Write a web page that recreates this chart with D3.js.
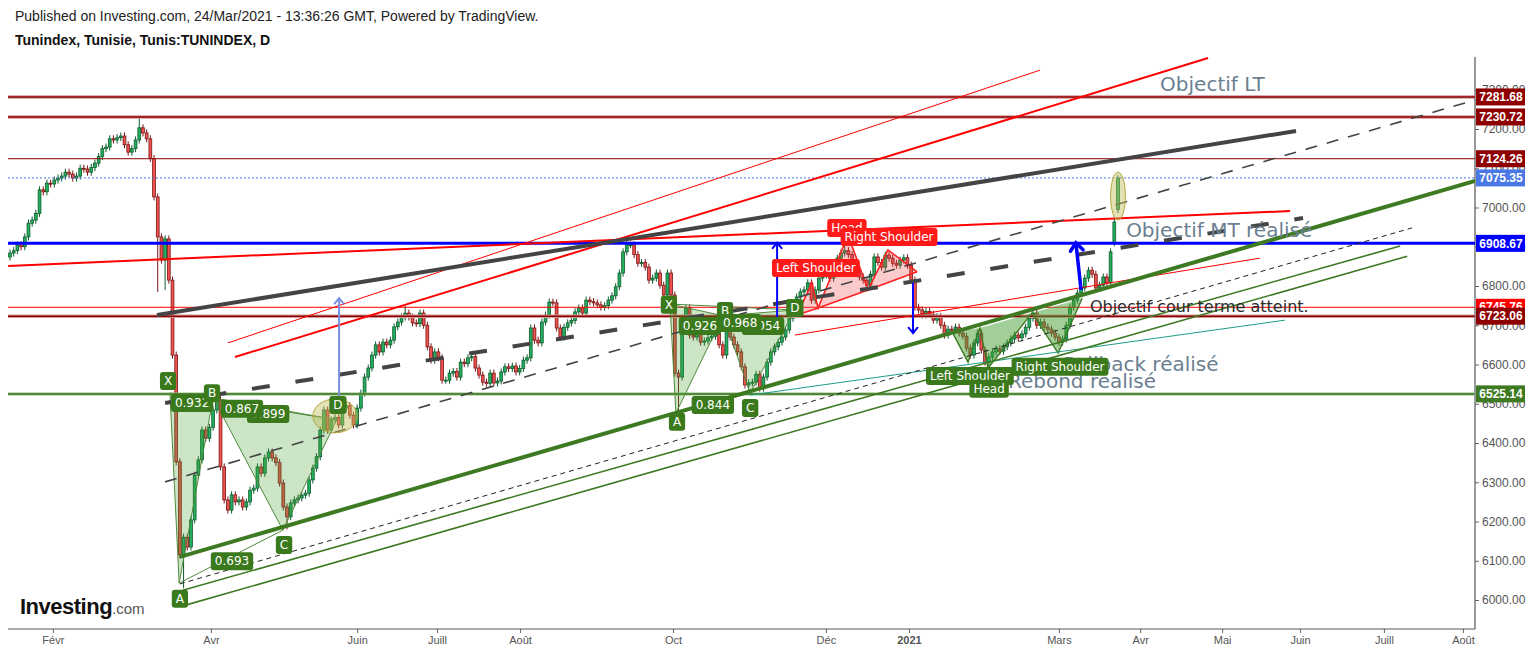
<!DOCTYPE html>
<html><head><meta charset="utf-8">
<script src="https://cdn.jsdelivr.net/npm/d3@7"></script>
<style>body{margin:0;background:#fff;overflow:hidden}svg{display:block}</style>
</head><body>
<svg id="c" width="1533" height="653"></svg>
<script>
// ---------------- DATA ----------------
const closes = [
// Jan - early Mar 2020
6884,6890,6905,6900,6925,6960,6968,6985,7045,7040,7062,7060,7070,7075,7080,7090,7085,7075,7080,7100,
7098,7090,7102,7113,7130,7150,7154,7175,7172,7178,7182,7160,7141,7150,7172,7203,7190,7175,7125,
// crash + recovery
7027,6925,6866,6920,6815,6624,6352,6115,6160,6135,6204,6318,6357,6433,6412,6440,6484,6510,6339,6255,
6229,6268,6250,6255,6237,6250,6280,6285,6339,6323,6362,6377,6362,6350,6298,6237,6212,6247,6255,6260,
6267,6272,6306,6336,6365,6433,6484,6433,6459,6465,6446,6489,6495,6471,6446,6489,6527,
// Jun - Aug
6568,6591,6624,6650,6632,6657,6650,6662,6696,6708,6721,6731,6721,6706,6704,6731,6700,6645,6611,6632,
6617,6560,6560,6578,6582,6568,6606,6602,6617,6620,6591,6573,6555,6552,6578,6553,6558,6581,6594,6590,
6596,6581,6590,6611,
// Aug - Sep
6617,6693,6662,6655,6708,6726,6759,6757,6693,6670,6695,6706,6712,6734,6744,6731,6764,6760,6757,6752,
6746,6750,6764,6775,6798,6833,6887,6905,6905,6880,6858,6860,6848,6815,6820,6833,6802,6777,6833,6777,
// Oct - Nov
6578,6568,6688,6744,6675,6670,6678,6657,6660,6668,6672,6680,6650,6624,6688,6670,6650,6632,6594,6548,
6553,6555,6575,6540,6568,6606,6632,6645,6657,
// Nov - Dec
6670,6688,6718,6751,6772,6785,6790,6808,6764,6790,6820,6828,6832,6820,6846,6871,6884,6890,6880,6853,
6840,6823,6815,6802,6830,6874,6860,6848,6879,6871,6858,6853,6866,6872,6853,6815,
// Jan - Mar 2021
6746,6739,6726,6735,6728,6713,6722,6700,6675,6690,6688,6695,6680,6672,6642,6624,6655,6680,6637,6606,
6619,6632,6640,6634,6645,6655,6665,6675,6668,6678,6695,6718,6731,6700,6708,6695,6690,6680,6670,6657,
6665,
6700,6746,6764,6782,6795,6820,6840,6830,6795,6802,6823,6808,6887,6963,7075
];
// gap opens [barIndex, open]
const openGaps = [[299, 6910], [300, 6995]];
// wick extremes [barIndex, high, low]
const wickExtremes = [
  [35, 7232, null], [40, null, 6785], [42, null, 6790], [47, null, 6030], [75, null, 6180],
  [107, 6750, null], [167, 6915, null], [181, null, 6476], [200, null, 6527], [226, 6930, null],
  [300, 7082, null]
];
const wickSize = 9;

const monthTicks = [11.6, 54.4, 94.0, 115.6, 138.1, 179.5, 220.9, 243.4, 284.0, 306.0, 328.2, 349.3, 372.0, 393.4];
const monthLabels = ["Févr","Avr","Juin","Juill","Août","Oct","Déc","2021","Mars","Avr","Mai","Juin","Juill","Août"];
const priceTicks = [6000,6100,6200,6300,6400,6500,6600,6700,6800,6900,7000,7100,7200,7300];

// horizontal levels [name, value]
const levels = [
  ["darkred2", 7281.68], ["darkred2", 7230.72], ["darkred1", 7124.26], ["bluedot", 7075.35],
  ["blue", 6908.67], ["red1", 6745.76], ["darkred2", 6723.06], ["green2", 6525.14]
];
// trend lines [name, i1, p1, i2, p2]
const trendLines = [
  ["redThin", 59.0, 6655, 278.9, 7350],
  ["redThick", 60.9, 6619, 324.4, 7381],
  ["redFlat", -0.5, 6851, 346.6, 6991],
  ["redThin2", 212.5, 6675, 338.4, 6871],
  ["teal", 200.4, 6522, 345.2, 6713],
  ["grayThick", 39.8, 6726, 348.2, 7195],
  ["grayThickDash", 42.0, 6502, 350.1, 6973],
  ["grayMedDash", 42.0, 6301, 396.7, 7274],
  ["blackDash", 46.0, 6041, 379.6, 6948],
  ["greenThin", 46.8, 6025, 376.4, 6902],
  ["greenThin", 46.8, 5985, 378.3, 6876],
  ["greenThick", 46.0, 6110, 396.7, 7068]
];
// XABCD patterns: points X, A, B, C, D as [i, p]
const xabcd = [
  [[43.3, 6527], [45.8, 6043], [55.0, 6515], [73.9, 6178], [88.5, 6459]],
  [[178.7, 6754], [180.3, 6476], [193.1, 6724], [200.4, 6527], [212.5, 6739]]
];
// head & shoulders: start, LS, N1, Head, N2, RS, end
const hsTop = [[213.1, 6726], [217.1, 6808], [218.8, 6744], [226.9, 6930], [232.3, 6790], [237.7, 6892], [245.6, 6836]];
const hsInv = [[255.1, 6683], [259.4, 6606], [262.6, 6693], [264.8, 6591], [276.7, 6731], [283.8, 6629], [290.3, 6769]];
// arrows [name, fromI, fromP, toI, toP]
const arrows = [
  ["lightblue", 89.1, 6497, 89.1, 6769],
  ["blue", 207.7, 6688, 207.7, 6910],
  ["blue", 244.5, 6808, 244.5, 6680],
  ["blueThick", 290.0, 6790, 288.6, 6910]
];
// ellipses [i, p, halfWidthBars, halfHeightPrice]
const ellipses = [[88.0, 6469, 6.0, 43], [300.0, 7029, 2.0, 61]];
// tag labels [text, i, p, kind]
const tags = [
  ["X", 42.8, 6558, "g"], ["0.932", 49.3, 6502, "g"], ["B", 54.7, 6527, "g"], ["0.899", 69.9, 6474, "g"],
  ["0.867", 62.8, 6487, "g"], ["D", 88.8, 6497, "g"], ["0.693", 60.1, 6099, "g"], ["A", 46.0, 6003, "g"],
  ["C", 74.2, 6140, "g"],
  ["X", 178.4, 6752, "g"], ["B", 193.6, 6736, "g"], ["1.054", 203.9, 6698, "g"], ["0.926", 186.8, 6698, "g"],
  ["0.968", 197.7, 6706, "g"], ["D", 212.5, 6744, "g"], ["0.844", 190.3, 6497, "g"], ["A", 180.6, 6454, "g"],
  ["C", 200.4, 6489, "g"],
  ["Left Shoulder", 218.2, 6846, "r"], ["Head", 226.6, 6948, "r"], ["Right Shoulder", 238.0, 6925, "r"]
];
const tagsLate = [
  ["Left Shoulder", 259.9, 6571, "g"], ["Right Shoulder", 284.3, 6594, "g"], ["Head", 265.1, 6538, "g"]
];
// free texts [text, i, p, kind]
const notes = [
  ["Objectif LT", 311.4, 7297, "big"],
  ["Objectif MT réalisé", 302.2, 6925, "big"],
  ["Objectif cour terme atteint.", 292.4, 6734, "small"],
  ["Pullback réalisé", 285.1, 6583, "big"],
  ["Rebond realisé", 270.2, 6540, "big"]
];

// ---------------- STYLES ----------------
const plot = {left: 8, right: 1475, top: 57, bottom: 629};
const lvlStyle = {
  darkred2: [{c: "#d29a9a", w: 3.5}, {c: "#8e0000", w: 1.5}],
  darkred1: [{c: "#8e0000", w: 1}],
  bluedot: [{c: "#4a78e6", w: 1, dash: "2,2"}],
  blue: [{c: "#0000ff", w: 3}],
  red1: [{c: "#ff0000", w: 1}],
  green2: [{c: "#8fb880", w: 3}, {c: "#3d7a22", w: 1.5}]
};
const lvlBox = {darkred2: "#8e0000", darkred1: "#8e0000", bluedot: "#4a78e6", blue: "#0000ff", red1: "#ff0000", green2: "#3d7a22"};
const tlStyle = {
  redThin: {c: "#ff0000", w: 1}, redThick: {c: "#ff0000", w: 2}, redFlat: {c: "#ff0000", w: 2},
  redThin2: {c: "#ff0000", w: 1}, teal: {c: "#1f9e8a", w: 1},
  grayThick: {c: "#444", w: 4}, grayThickDash: {c: "#444", w: 4, dash: "18,26"},
  grayMedDash: {c: "#444", w: 1.6, dash: "12,10"}, blackDash: {c: "#222", w: 1, dash: "5,4"},
  greenThin: {c: "#3d7a22", w: 1.6}, greenThick: {c: "#3d7a22", w: 4}
};
const arrowStyle = {lightblue: {c: "#7a8fe0", w: 2, h: 7}, blue: {c: "#0000ff", w: 2, h: 7}, blueThick: {c: "#0000ff", w: 3.5, h: 10}};

// ---------------- SCALES ----------------
const x = d3.scaleLinear().domain([0, 300]).range([10, 1118]);
const y = d3.scaleLinear().domain([6000, 7200]).range([600, 129]);
const svg = d3.select("#c");
svg.append("defs").append("clipPath").attr("id", "clip").append("rect")
  .attr("x", plot.left).attr("y", plot.top).attr("width", plot.right - plot.left).attr("height", plot.bottom - plot.top);

// header
svg.append("text").attr("x", 15).attr("y", 21).text("Published on Investing.com, 24/Mar/2021 - 13:36:26 GMT, Powered by TradingView.")
  .style("font", "14px 'Liberation Sans', Arial, sans-serif").attr("fill", "#222");
svg.append("text").attr("x", 15).attr("y", 45).text("Tunindex, Tunisie, Tunis:TUNINDEX, D")
  .style("font", "bold 14px 'Liberation Sans', Arial, sans-serif").attr("fill", "#111");

// axes
const yAxis = d3.axisRight(y).tickValues(priceTicks).tickFormat(d3.format(".2f")).tickSize(4);
const ya = svg.append("g").attr("transform", `translate(${plot.right},0)`).call(yAxis);
ya.select(".domain").remove();
ya.selectAll("line").attr("stroke", "#666");
ya.selectAll("text").attr("fill", "#555").attr("x", 7).style("font", "12px 'Liberation Sans', Arial, sans-serif");
svg.append("line").attr("x1", plot.right).attr("x2", plot.right).attr("y1", plot.top).attr("y2", plot.bottom).attr("stroke", "#555").attr("stroke-width", 1.2);

const xAxis = d3.axisBottom(x).tickValues(monthTicks).tickFormat((d, k) => monthLabels[k]).tickSize(4);
const xa = svg.append("g").attr("transform", `translate(0,${plot.bottom})`).call(xAxis);
xa.select(".domain").remove();
xa.selectAll("line").attr("stroke", "#666");
xa.selectAll("text").attr("fill", "#555").attr("y", 7)
  .style("font", "11px 'Liberation Sans Narrow', 'Liberation Sans', Arial, sans-serif")
  .style("font-weight", (d, k) => monthLabels[k] === "2021" ? "bold" : "normal");
svg.append("line").attr("x1", plot.left).attr("x2", plot.right).attr("y1", plot.bottom).attr("y2", plot.bottom).attr("stroke", "#555").attr("stroke-width", 1.2);

const g = svg.append("g").attr("clip-path", "url(#clip)");

// candles
const ovO = new Map(openGaps), ovW = new Map(wickExtremes.map(d => [d[0], d]));
const candles = closes.map((c, i) => {
  const o = ovO.has(i) ? ovO.get(i) : (i === 0 ? c - 10 : closes[i - 1]);
  let hi = Math.max(o, c) + wickSize, lo = Math.min(o, c) - wickSize;
  if (ovW.has(i)) { const e = ovW.get(i); if (e[1] != null) hi = e[1]; if (e[2] != null) lo = e[2]; }
  return {i, o, c, hi, lo, up: c >= o};
});
const cg = g.append("g");
cg.selectAll("line").data(candles).join("line")
  .attr("x1", d => x(d.i)).attr("x2", d => x(d.i)).attr("y1", d => y(d.hi)).attr("y2", d => y(d.lo))
  .attr("stroke", d => d.up ? "#0d5a2a" : "#7a1414").attr("stroke-width", 1);
cg.selectAll("rect").data(candles).join("rect")
  .attr("x", d => x(d.i) - 1.4).attr("width", 2.8)
  .attr("y", d => y(Math.max(d.o, d.c))).attr("height", d => Math.max(1, Math.abs(y(d.o) - y(d.c))))
  .attr("fill", d => d.up ? "#22b060" : "#ef5350").attr("stroke", d => d.up ? "#0d5a2a" : "#7a1414").attr("stroke-width", 0.8);

// levels
levels.forEach(([k, v]) => lvlStyle[k].forEach(s => g.append("line")
  .attr("x1", plot.left).attr("x2", plot.right).attr("y1", y(v)).attr("y2", y(v))
  .attr("stroke", s.c).attr("stroke-width", s.w).attr("stroke-dasharray", s.dash || null)));

// patterns
const pt = p => [x(p[0]), y(p[1])];
const line = d3.line();
xabcd.forEach(P => {
  const [X, A, B, C, D] = P.map(pt);
  g.append("path").attr("d", line([X, A, B]) + "Z").attr("fill", "rgba(70,160,50,0.28)").attr("stroke", "#4f8a3a").attr("stroke-width", 1);
  g.append("path").attr("d", line([B, C, D]) + "Z").attr("fill", "rgba(70,160,50,0.28)").attr("stroke", "#4f8a3a").attr("stroke-width", 1);
  g.append("path").attr("d", line([X, D])).attr("fill", "none").attr("stroke", "#4f8a3a").attr("stroke-width", 1);
  g.append("path").attr("d", line([A, C])).attr("fill", "none").attr("stroke", "#4f8a3a").attr("stroke-width", 1);
});
{
  const P = hsTop.map(pt);
  [[0, 1, 2], [2, 3, 4], [4, 5, 6]].forEach(t => g.append("path").attr("d", line(t.map(k => P[k])) + "Z")
    .attr("fill", "rgba(240,70,70,0.28)").attr("stroke", "none"));
  g.append("path").attr("d", line(P)).attr("fill", "none").attr("stroke", "#ff2020").attr("stroke-width", 1.6);
  g.append("path").attr("d", line([P[0], P[2], P[4], P[6]])).attr("fill", "none").attr("stroke", "#ff2020").attr("stroke-width", 1.6);
}
{
  const P = hsInv.map(pt);
  [[0, 1, 2], [2, 3, 4], [4, 5, 6]].forEach(t => g.append("path").attr("d", line(t.map(k => P[k])) + "Z")
    .attr("fill", "rgba(70,160,50,0.5)").attr("stroke", "none"));
  g.append("path").attr("d", line(P)).attr("fill", "none").attr("stroke", "#3d7a22").attr("stroke-width", 1.4);
}

// trend lines
trendLines.forEach(([k, i1, p1, i2, p2]) => {
  const s = tlStyle[k];
  g.append("line").attr("x1", x(i1)).attr("y1", y(p1)).attr("x2", x(i2)).attr("y2", y(p2))
    .attr("stroke", s.c).attr("stroke-width", s.w).attr("stroke-dasharray", s.dash || null);
});

// ellipses
ellipses.forEach(([i, p, rb, rp]) => g.append("ellipse").attr("cx", x(i)).attr("cy", y(p))
  .attr("rx", x(i + rb) - x(i)).attr("ry", y(p - rp) - y(p))
  .attr("fill", "rgba(190,190,90,0.45)").attr("stroke", "#b5a640").attr("stroke-width", 1));

// arrows
arrows.forEach(([k, i1, p1, i2, p2]) => {
  const s = arrowStyle[k];
  const x1 = x(i1), y1 = y(p1), x2 = x(i2), y2 = y(p2);
  const ang = Math.atan2(y2 - y1, x2 - x1);
  g.append("line").attr("x1", x1).attr("y1", y1).attr("x2", x2).attr("y2", y2).attr("stroke", s.c).attr("stroke-width", s.w);
  const a1 = ang + Math.PI * 0.78, a2 = ang - Math.PI * 0.78;
  g.append("path").attr("d", `M${x2 + s.h * Math.cos(a1)},${y2 + s.h * Math.sin(a1)}L${x2},${y2}L${x2 + s.h * Math.cos(a2)},${y2 + s.h * Math.sin(a2)}`)
    .attr("fill", "none").attr("stroke", s.c).attr("stroke-width", s.w).attr("stroke-linecap", "round");
});

// notes
notes.forEach(([t, i, p, kind]) => g.append("text").attr("x", x(i)).attr("y", y(p)).text(t)
  .attr("fill", kind === "big" ? "#6b7f91" : "#2a2a2a")
  .style("font", kind === "big" ? "20px 'DejaVu Sans', sans-serif" : "16px 'DejaVu Sans', sans-serif"));

// tags
function drawTags(arr) {
  arr.forEach(([t, i, p, kind]) => {
    const gg = g.append("g").attr("transform", `translate(${x(i)},${y(p)})`);
    const r = gg.append("rect");
    const tx = gg.append("text").attr("text-anchor", "middle").attr("dy", "0.35em").text(t)
      .attr("fill", "#fff").style("font", "12px 'DejaVu Sans', sans-serif");
    const w = tx.node().getComputedTextLength() + 8;
    r.attr("x", -w / 2).attr("y", -9).attr("width", w).attr("height", 18).attr("rx", 3)
      .attr("fill", kind === "g" ? "#3a7a1c" : "#ff1a1a");
  });
}
drawTags(tags);
drawTags(tagsLate);

// right axis value boxes
levels.forEach(([k, v]) => {
  const gg = svg.append("g").attr("transform", `translate(${plot.right + 1},${y(v)})`);
  gg.append("rect").attr("x", 0).attr("y", -8.5).attr("width", 49).attr("height", 17).attr("fill", lvlBox[k]);
  gg.append("text").attr("x", 25).attr("dy", "0.35em").attr("text-anchor", "middle").text(v.toFixed(2))
    .attr("fill", "#fff").style("font", "bold 12px 'Liberation Sans', Arial, sans-serif");
});

// logo
const logo = svg.append("text").attr("x", 20).attr("y", 614);
logo.append("tspan").text("Investing").style("font", "bold 22px 'Liberation Sans', Arial, sans-serif").attr("fill", "#111").attr("letter-spacing", "-0.5");
logo.append("tspan").text(".com").style("font", "15px 'Liberation Sans', Arial, sans-serif").attr("fill", "#555");
</script>
</body></html>
